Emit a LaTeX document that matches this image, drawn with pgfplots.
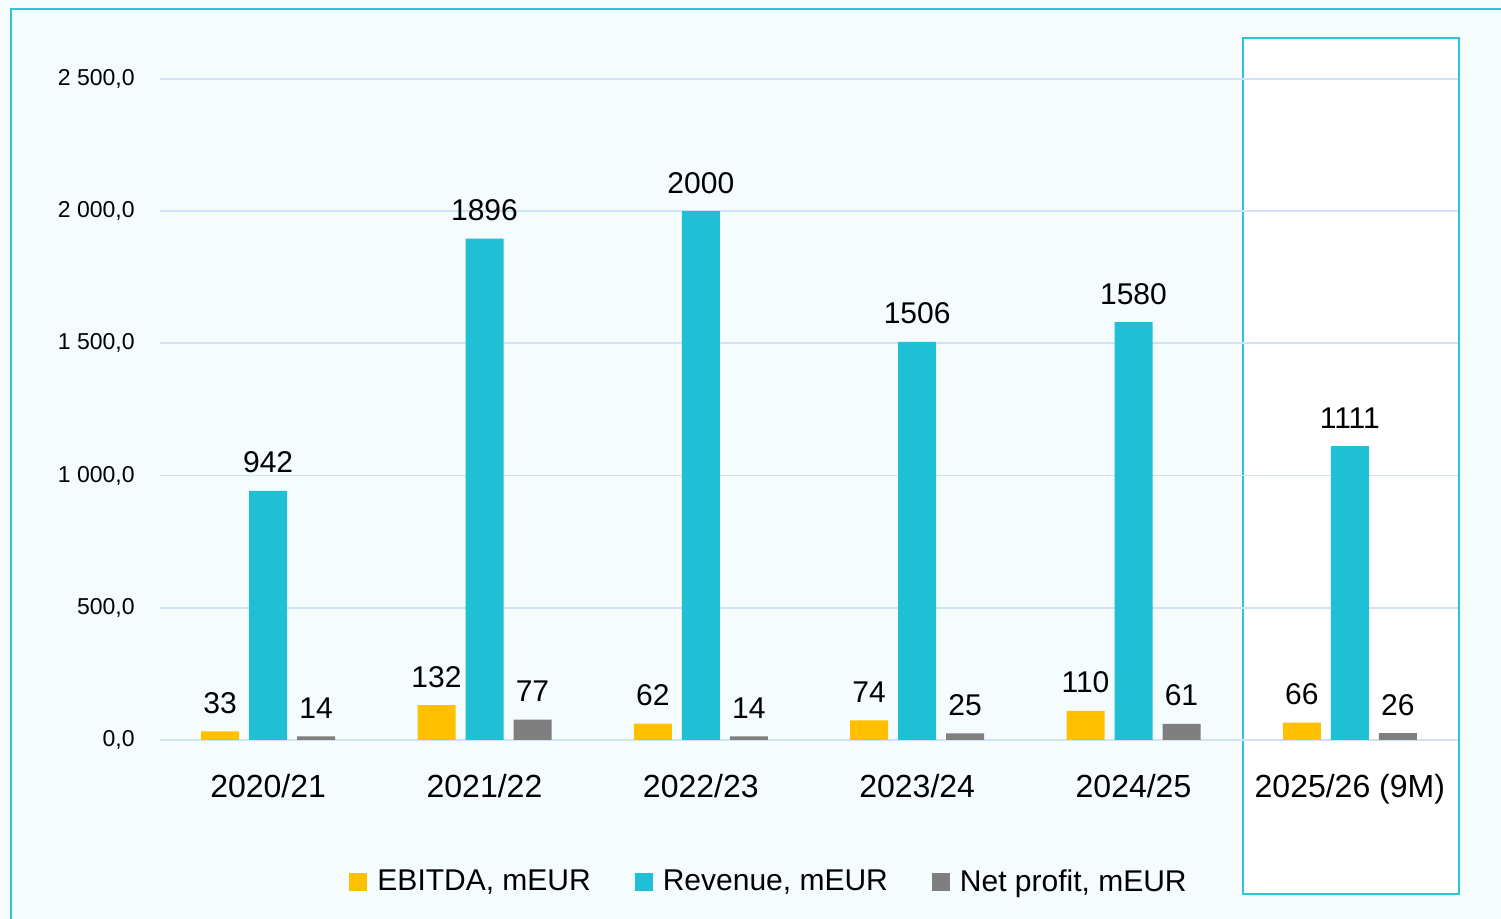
\documentclass[border=0pt]{standalone}
\usepackage{fontspec}
\setmainfont{Liberation Sans}
\usepackage{pgfplots}
\pgfplotsset{compat=1.18}
\definecolor{bg}{HTML}{F4FCFE}
\definecolor{frame}{HTML}{2EC4D8}
\definecolor{gridc}{HTML}{CFE3F5}
\definecolor{ebit}{HTML}{FFC000}
\definecolor{rev}{HTML}{1FBFD6}
\definecolor{netp}{HTML}{7F7F7F}
\begin{document}
\begin{tikzpicture}
\useasboundingbox (0,0) rectangle (750.5pt,459.5pt);
\fill[bg] (0,0) rectangle (750.5pt,459.5pt);
\draw[frame, line width=1pt] (5.5pt,-5pt) -- (5.5pt,455pt) -- (760pt,455pt);
\filldraw[fill=white, draw=frame, line width=1pt] (621.5pt,12.5pt) rectangle (729.5pt,440.5pt);
\begin{axis}[
  at={(80pt,89.5pt)}, anchor=south west,
  scale only axis, width=649pt, height=330.5pt,
  xmin=-0.5, xmax=5.5, ymin=0, ymax=2500,
  clip=false,
  /pgf/number format/assume math mode=true,
  axis line style={draw=none},
  tick style={draw=none},
  major tick length=0pt,
  ymajorgrids, grid style={gridc, line width=0.9pt},
  ytick={0,500,1000,1500,2000,2500},
  yticklabels={{0,0},{500,0},{1 000,0},{1 500,0},{2 000,0},{2 500,0}},
  yticklabel style={font=\fontsize{11.5}{13}\selectfont, inner sep=0pt, anchor=east, xshift=-12.5pt},
  xtick={0,1,2,3,4,5},
  xticklabels={2020/21,2021/22,2022/23,2023/24,2024/25,2025/26 (9M)},
  xticklabel style={font=\fontsize{16}{19}\selectfont, inner sep=0pt, anchor=north, yshift=-17pt},
  ybar, bar width=19pt,
  nodes near coords={\pgfmathprintnumber[fixed,precision=0,1000 sep={},assume math mode=true]{\pgfplotspointmeta}},
  every node near coord/.append style={font=\fontsize{15}{18}\selectfont, anchor=base, inner sep=0pt, yshift=9pt, text=black},
  legend style={at={(0.470,-0.215)}, anchor=center, draw=none, fill=none,
    font=\fontsize{15}{18}\selectfont, legend columns=3,
    /tikz/every odd column/.append style={column sep=3pt},
    /tikz/every even column/.append style={column sep=20pt}},
  legend image code/.code={\fill[#1] (0pt,-4.5pt) rectangle (9pt,4.5pt);},
]
\addplot[fill=ebit, draw=none, bar shift=-24pt] coordinates {(0,33) (1,132) (2,62) (3,74) (4,110) (5,66)};
\addplot[fill=rev, draw=none, bar shift=0pt] coordinates {(0,942) (1,1896) (2,2000) (3,1506) (4,1580) (5,1111)};
\addplot[fill=netp, draw=none, bar shift=24pt] coordinates {(0,14) (1,77) (2,14) (3,25) (4,61) (5,26)};
\legend{{EBITDA, mEUR}, {Revenue, mEUR}, {Net profit, mEUR}}
\end{axis}
\end{tikzpicture}
\end{document}
